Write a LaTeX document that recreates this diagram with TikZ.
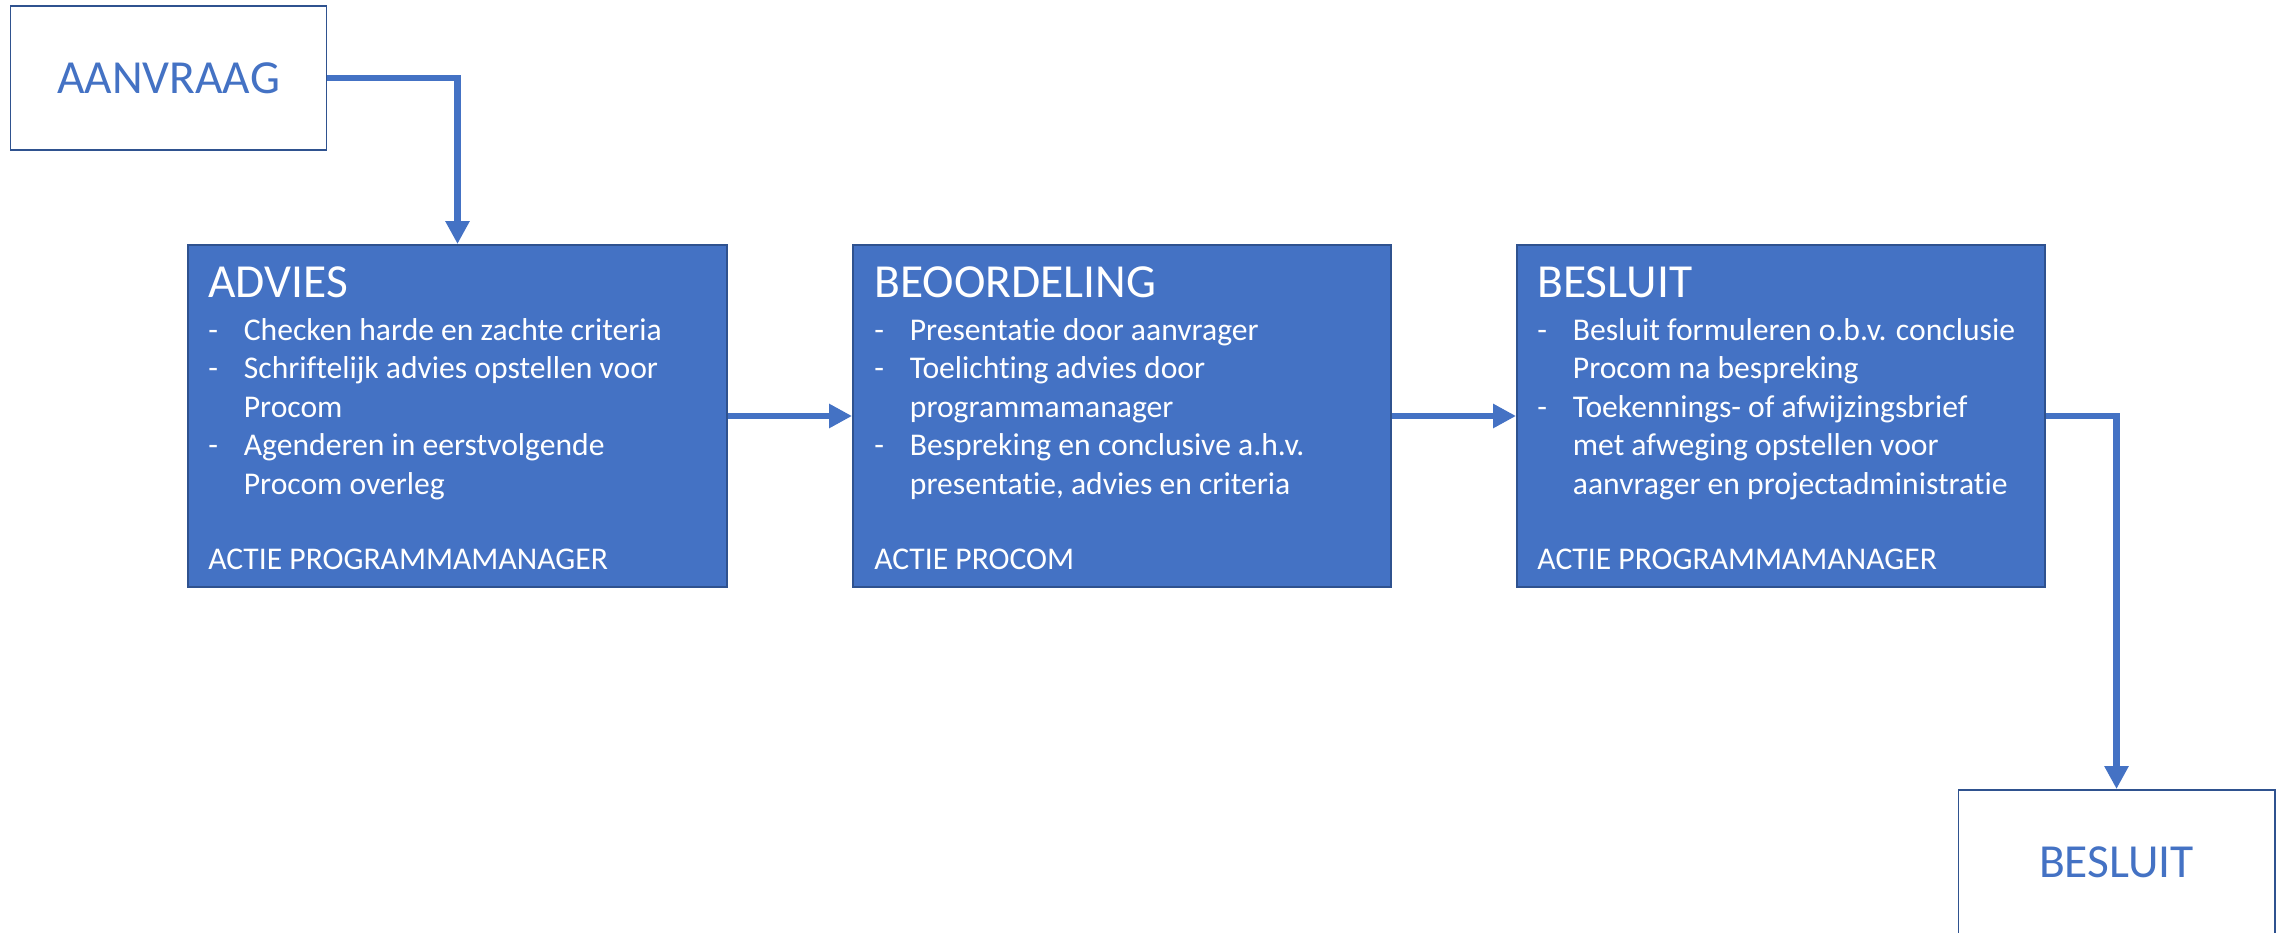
\documentclass[tikz,border=0pt]{standalone}
\usepackage{fontspec}
\setmainfont{Carlito}[Ligatures=NoCommon]
\usepackage{tikz}
\usetikzlibrary{arrows.meta}
\definecolor{vulblauw}{HTML}{4472C4}
\definecolor{randblauw}{HTML}{2F528F}
\newcommand\kop[1]{\rule{0pt}{1.06cm}{\fontsize{27}{32}\selectfont #1}}
\newcommand\punt{\makebox[0.71cm][l]{-}}
\newcommand\verder{\hspace*{0.71cm}}
\tikzset{
	stap/.style={rectangle, draw=randblauw, fill=vulblauw, line width=1.1pt, minimum width=#1, minimum height=6.84cm},
	staptekst/.style={anchor=north west, inner sep=0pt, text=white, align=left, font=\fontsize{18}{21.9}\selectfont},
	eindpunt/.style={rectangle, draw=randblauw, fill=white, line width=1.1pt, minimum width=6.32cm, minimum height=2.88cm, text=vulblauw, font=\fontsize{27}{32}\selectfont},
	pijl/.style={draw=vulblauw, line width=3.6pt, -{Triangle[length=0.46cm,width=0.46cm]}}
}

\begin{document}
\begin{tikzpicture}
			%%%%% START %%%%%
			\useasboundingbox (0, 0) rectangle (45.7, 18.64);
			
			\node[eindpunt] (aanvraag) at (3.37, 17.08) {AANVRAAG};
			
			\node[stap=10.78cm] (advies) at (9.15, 10.32) {};
			\node[staptekst] (advies-tekst) at ([xshift=0.42cm]advies.north west) {\kop{ADVIES}\\[2.6pt]
				\punt Checken harde en zachte criteria\\
				\punt Schriftelijk advies opstellen voor\\
				\verder Procom\\
				\punt Agenderen in eerstvolgende\\
				\verder Procom overleg\\[20.8pt]
				ACTIE PROGRAMMAMANAGER};
			
			\node[stap=10.76cm] (beoordeling) at (22.44, 10.32) {};
			\node[staptekst] (beoordeling-tekst) at ([xshift=0.44cm]beoordeling.north west) {\kop{BEOORDELING}\\[2.6pt]
				\punt Presentatie door aanvrager\\
				\punt Toelichting advies door\\
				\verder programmamanager\\
				\punt Bespreking en conclusive a.h.v.\\
				\verder presentatie, advies en criteria\\[20.8pt]
				ACTIE PROCOM};
			
			\node[stap=10.56cm] (besluit) at (35.62, 10.32) {};
			\node[staptekst] (besluit-tekst) at ([xshift=0.42cm]besluit.north west) {\kop{BESLUIT}\\[2.6pt]
				\punt Besluit formuleren o.b.v. conclusie\\
				\verder Procom na bespreking\\
				\punt Toekennings- of afwijzingsbrief\\
				\verder met afweging opstellen voor\\
				\verder aanvrager en projectadministratie\\[20.8pt]
				ACTIE PROGRAMMAMANAGER};
			
			\node[eindpunt] (eind) at (42.33, 1.4) {BESLUIT};
			
			\draw[pijl] (aanvraag.east) -| (advies.north);
			\draw[pijl] (advies) -- (beoordeling);
			\draw[pijl] (beoordeling) -- (besluit);
			\draw[pijl] (besluit.east) -| (eind.north);
			
			%%%%% END %%%%%
\end{tikzpicture}
\end{document}
